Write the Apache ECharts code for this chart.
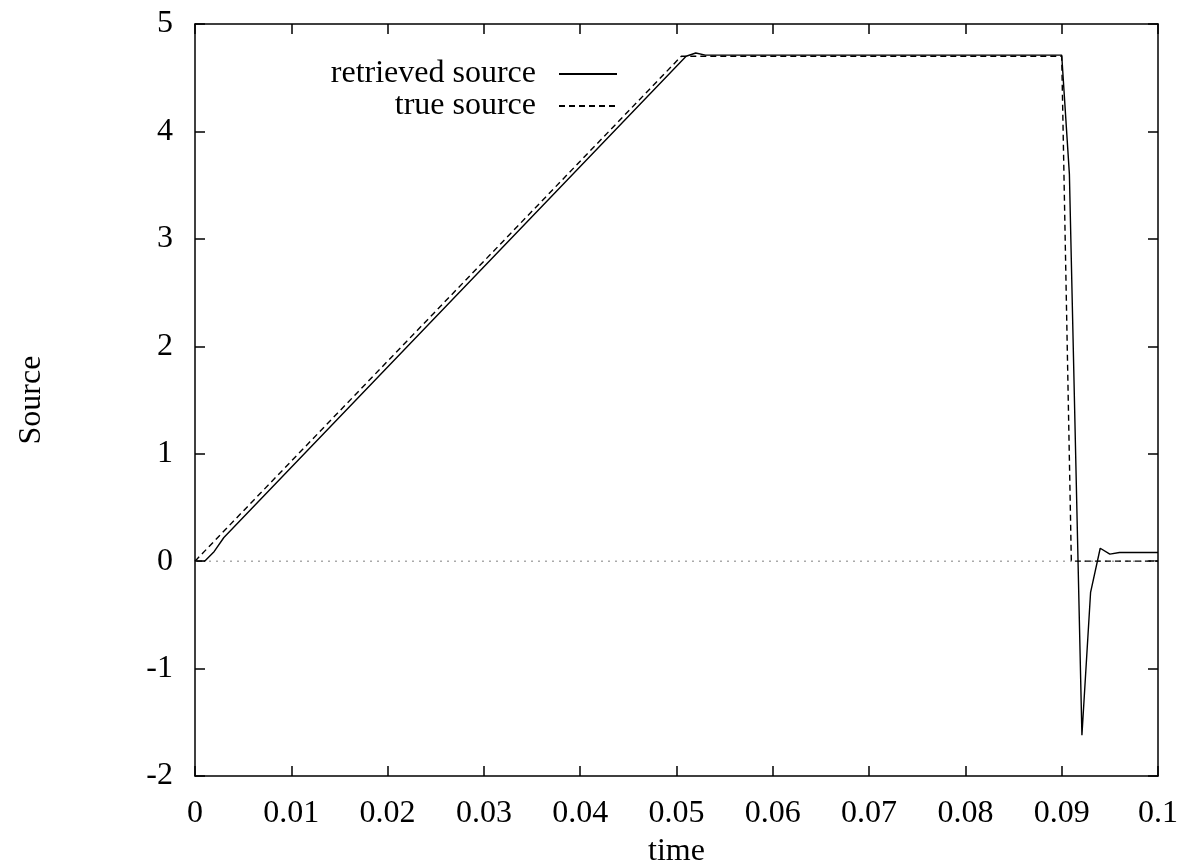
<!DOCTYPE html>
<html>
<head>
<meta charset="utf-8">
<script src="https://cdn.jsdelivr.net/npm/echarts@6/dist/echarts.min.js"></script>
<style>html,body{margin:0;padding:0;background:#fff;}#c{width:1183px;height:863px;}</style>
</head>
<body>
<div id="c"></div>
<script>
// ---- data ----
const retrievedT = [0, 0.001, 0.002, 0.003, 0.051, 0.052, 0.053, 0.09, 0.0908, 0.0921, 0.093, 0.094, 0.095, 0.096, 0.1];
const retrievedV = [0, 0, 0.09, 0.22, 4.70, 4.73, 4.71, 4.71, 3.6, -1.62, -0.29, 0.12, 0.065, 0.08, 0.08];
const trueT = [0, 0.0505, 0.09, 0.091, 0.1];
const trueV = [0, 4.70, 4.70, 0, 0];
const zeroT = [0, 0.1];
const zeroV = [0, 0];
const xTickLabels = ['0', '0.01', '0.02', '0.03', '0.04', '0.05', '0.06', '0.07', '0.08', '0.09', '0.1'];
const yTickLabels = ['-2', '-1', '0', '1', '2', '3', '4', '5'];
const seriesNames = ['retrieved source', 'true source'];

const zip = (a, b) => a.map((v, i) => [v, b[i]]);
const FONT = '"Liberation Serif", "DejaVu Serif", serif';
const FS = 32;

const chart = echarts.init(document.getElementById('c'), null, {renderer: 'canvas'});
const axisLine = {show: true, onZero: false, lineStyle: {color: '#000', width: 1.5}};
const tick = {show: true, inside: true, length: 10, lineStyle: {color: '#000', width: 1.5}};

chart.setOption({
  animation: false,
  backgroundColor: '#fff',
  textStyle: {fontFamily: FONT},
  grid: {left: 195, right: 25, top: 24, bottom: 87, containLabel: false, outerBoundsMode: 'none'},
  legend: {
    orient: 'vertical',
    align: 'right',
    right: 560,
    top: 53,
    itemWidth: 58,
    itemHeight: 14,
    itemGap: 0,
    selectedMode: false,
    data: seriesNames,
    itemStyle: {opacity: 0},
    textStyle: {fontFamily: FONT, fontSize: FS, color: '#000', padding: [0, 18, 0, 0]}
  },
  xAxis: [{
    type: 'value', min: 0, max: 0.1, interval: 0.01,
    name: 'time', nameLocation: 'middle', nameGap: 60,
    nameTextStyle: {fontFamily: FONT, fontSize: FS, color: '#000'},
    axisLine: axisLine, axisTick: tick, splitLine: {show: false},
    axisLabel: {fontFamily: FONT, fontSize: FS, color: '#000', margin: 22,
      formatter: v => xTickLabels[Math.round(v / 0.01)]}
  }, {
    type: 'value', min: 0, max: 0.1, interval: 0.01, position: 'top',
    axisLine: axisLine, axisTick: tick, splitLine: {show: false}, axisLabel: {show: false}
  }],
  yAxis: [{
    type: 'value', min: -2, max: 5, interval: 1,
    name: 'Source', nameLocation: 'middle', nameGap: 147,
    nameTextStyle: {fontFamily: FONT, fontSize: FS, color: '#000'},
    axisLine: axisLine, axisTick: tick, splitLine: {show: false},
    axisLabel: {fontFamily: FONT, fontSize: FS, color: '#000', margin: 22,
      formatter: v => yTickLabels[Math.round(v + 2)]}
  }, {
    type: 'value', min: -2, max: 5, interval: 1, position: 'right',
    axisLine: axisLine, axisTick: tick, splitLine: {show: false}, axisLabel: {show: false}
  }],
  series: [{
    name: 'zero', type: 'line', symbol: 'none', silent: true,
    data: zip(zeroT, zeroV),
    lineStyle: {color: '#aaa', width: 1.5, type: [2, 5]}
  }, {
    name: seriesNames[0], type: 'line', symbol: 'none',
    data: zip(retrievedT, retrievedV),
    itemStyle: {color: '#000'},
    lineStyle: {color: '#000', width: 1.4, type: 'solid'}
  }, {
    name: seriesNames[1], type: 'line', symbol: 'none',
    data: zip(trueT, trueV),
    itemStyle: {color: '#000'},
    lineStyle: {color: '#000', width: 1.4, type: [6, 4]}
  }]
});
</script>
</body>
</html>
